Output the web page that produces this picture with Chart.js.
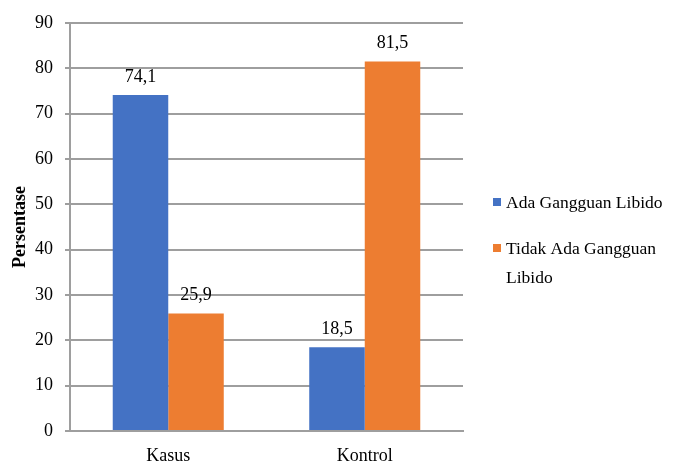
<!DOCTYPE html>
<html>
<head>
<meta charset="utf-8">
<script src="https://cdn.jsdelivr.net/npm/chart.js@4"></script>
<style>
  html, body { margin: 0; padding: 0; background: #fff; }
  #wrap { width: 673px; height: 461px; }
</style>
</head>
<body>
<div id="wrap"><canvas id="chart"></canvas></div>
<script>
const categories = ['Kasus', 'Kontrol'];
const seriesNames = ['Ada Gangguan Libido', 'Tidak Ada Gangguan Libido'];
const adaGangguan = [74.1, 18.5];
const tidakAdaGangguan = [25.9, 81.5];
const yTicks = [0, 10, 20, 30, 40, 50, 60, 70, 80, 90];
const colors = ['#4472C4', '#ED7D31'];

const fontFamily = "'Liberation Serif', 'Times New Roman', serif";
const fontSize = 18;

// angka di atas batang, format koma
const labelPlugin = {
  id: 'barLabels',
  afterDatasetsDraw(chart) {
    const ctx = chart.ctx;
    ctx.save();
    ctx.font = fontSize + 'px ' + fontFamily;
    ctx.fillStyle = '#000';
    ctx.textAlign = 'center';
    ctx.textBaseline = 'bottom';
    chart.data.datasets.forEach((ds, i) => {
      chart.getDatasetMeta(i).data.forEach((bar, j) => {
        ctx.fillText(ds.data[j].toFixed(1).replace('.', ','), bar.x, bar.y - 9);
      });
    });
    ctx.restore();
  }
};

// legenda di kanan, teks dibungkus seperti aslinya
const legendPlugin = {
  id: 'sideLegend',
  afterDraw(chart) {
    const ctx = chart.ctx;
    const wraps = [['Ada Gangguan Libido'], ['Tidak Ada Gangguan', 'Libido']];
    const startY = [202, 248];
    ctx.save();
    ctx.font = '17.5px ' + fontFamily;
    ctx.textBaseline = 'middle';
    chart.data.datasets.forEach((ds, i) => {
      const y = startY[i];
      ctx.fillStyle = ds.backgroundColor;
      ctx.fillRect(493, y - 4, 8, 8);
      ctx.fillStyle = '#000';
      wraps[i].forEach((line, k) => {
        ctx.fillText(line, 506, y + 1 + k * 29);
      });
    });
    ctx.restore();
  }
};

new Chart(document.getElementById('chart'), {
  type: 'bar',
  data: {
    labels: categories,
    datasets: [
      { label: seriesNames[0], data: adaGangguan, backgroundColor: colors[0] },
      { label: seriesNames[1], data: tidakAdaGangguan, backgroundColor: colors[1] }
    ]
  },
  options: {
    responsive: true,
    maintainAspectRatio: false,
    animation: false,
    layout: { padding: { top: 23, right: 210, bottom: 0, left: 0 } },
    datasets: { bar: { barPercentage: 1, categoryPercentage: 0.565 } },
    plugins: {
      legend: { display: false },
      tooltip: { enabled: false }
    },
    scales: {
      x: {
        grid: { display: false },
        border: { display: true, color: '#9e9e9e', width: 2 },
        ticks: { color: '#000', font: { family: fontFamily, size: fontSize }, padding: 6 },
        afterFit(scale) { scale.height = 30; }
      },
      y: {
        min: 0,
        max: 90,
        afterBuildTicks(scale) { scale.ticks = yTicks.map(v => ({ value: v })); },
        grid: { color: '#9e9e9e', lineWidth: 2, tickLength: 5 },
        border: { display: true, color: '#9e9e9e', width: 2 },
        ticks: { color: '#000', font: { family: fontFamily, size: fontSize }, padding: 12 },
        title: {
          display: true,
          text: 'Persentase',
          color: '#000',
          font: { family: fontFamily, size: 18, weight: 'bold' },
          padding: { top: 10, bottom: 0 }
        },
        afterFit(scale) { scale.width = 70; }
      }
    }
  },
  plugins: [labelPlugin, legendPlugin]
});
</script>
</body>
</html>
